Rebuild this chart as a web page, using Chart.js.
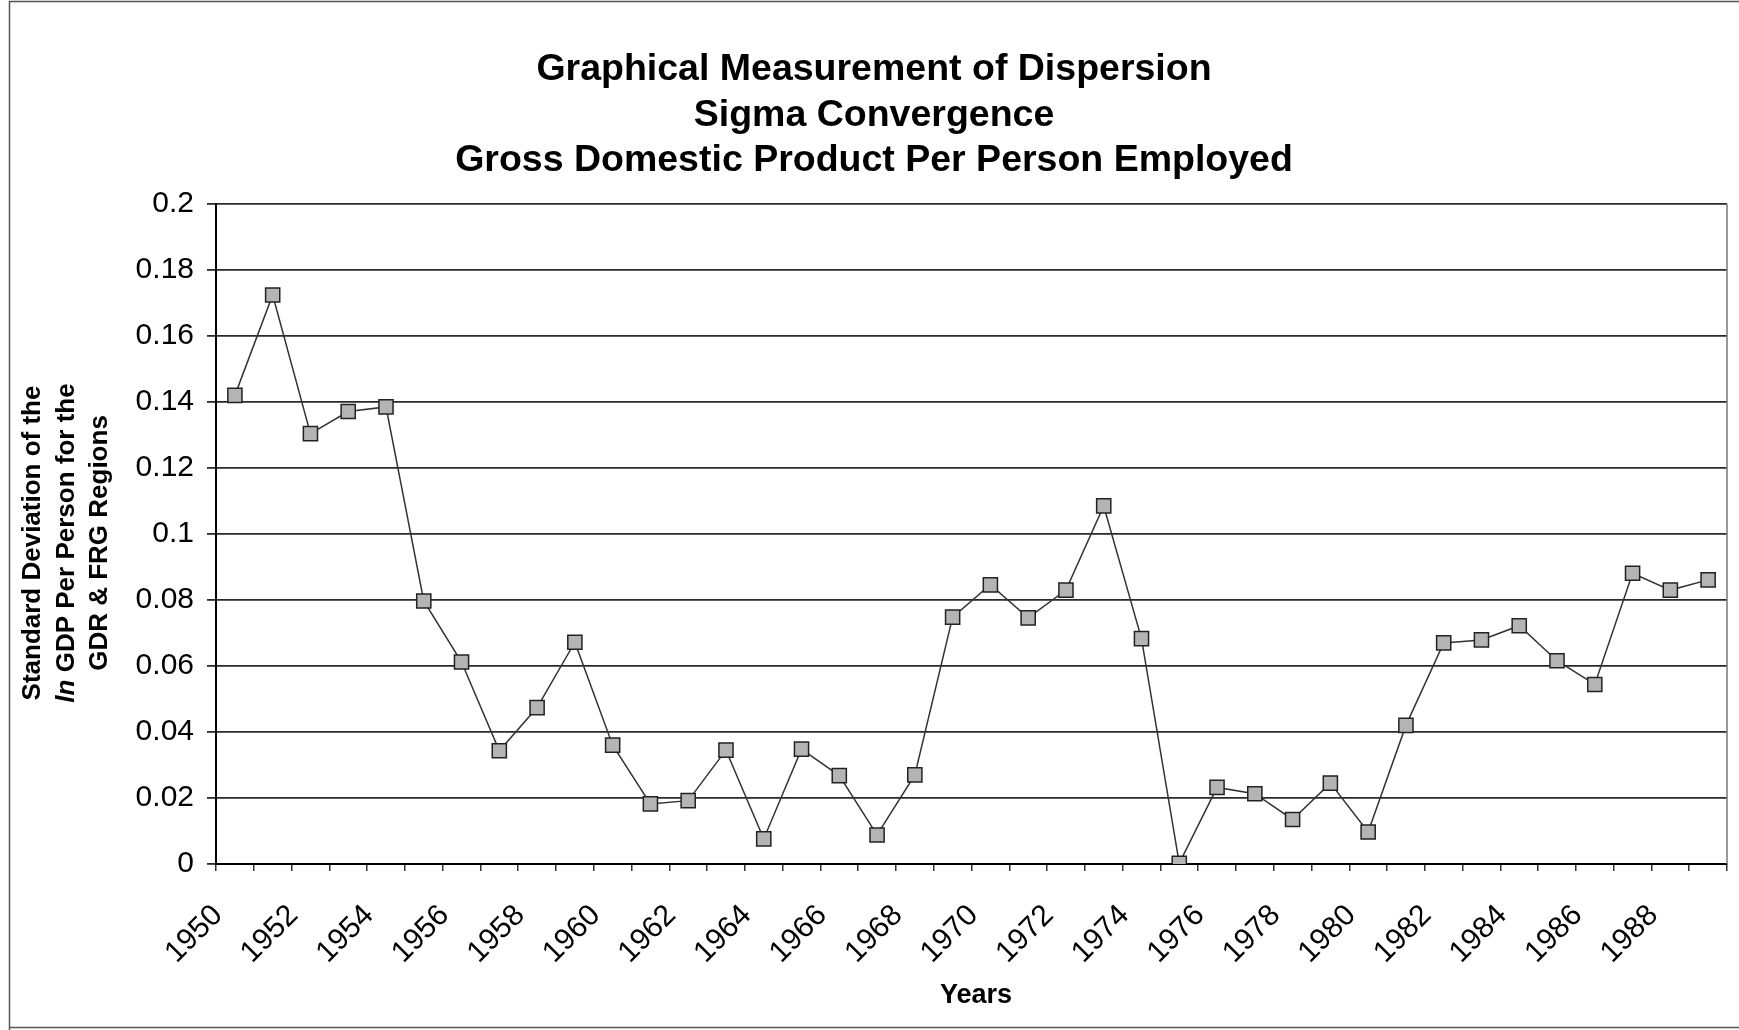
<!DOCTYPE html>
<html>
<head>
<meta charset="utf-8">
<title>Sigma Convergence</title>
<script src="https://cdn.jsdelivr.net/npm/chart.js@4.4.1/dist/chart.umd.min.js"></script>
<style>
  html, body { margin: 0; padding: 0; background: #fff; }
  #wrap { width: 1739px; height: 1030px; }
</style>
</head>
<body>
<div id="wrap"><canvas id="zgchart" width="1739" height="1030"></canvas></div>
<script>
// categories
var years = [1950, 1951, 1952, 1953, 1954, 1955, 1956, 1957, 1958, 1959,
             1960, 1961, 1962, 1963, 1964, 1965, 1966, 1967, 1968, 1969,
             1970, 1971, 1972, 1973, 1974, 1975, 1976, 1977, 1978, 1979,
             1980, 1981, 1982, 1983, 1984, 1985, 1986, 1987, 1988, 1989];

// std dev of ln GDP per person employed, GDR & FRG regions
var sigma = [0.1420, 0.1724, 0.1304, 0.1371, 0.1385, 0.0797, 0.0612, 0.0343, 0.0474, 0.0672,
             0.0360, 0.0182, 0.0192, 0.0345, 0.0076, 0.0348, 0.0268, 0.0088, 0.0270, 0.0748,
             0.0846, 0.0746, 0.0830, 0.1085, 0.0683, 0.0002, 0.0232, 0.0213, 0.0135, 0.0245,
             0.0097, 0.0420, 0.0670, 0.0679, 0.0722, 0.0616, 0.0544, 0.0881, 0.0830, 0.0861];

// tick labels
var yearLabels = ["1950", "1952", "1954", "1956", "1958", "1960", "1962", "1964", "1966", "1968",
                  "1970", "1972", "1974", "1976", "1978", "1980", "1982", "1984", "1986", "1988"];
var yLabels = ["0", "0.02", "0.04", "0.06", "0.08", "0.1", "0.12", "0.14", "0.16", "0.18", "0.2"];

var titleLines = ["Graphical Measurement of Dispersion", "Sigma Convergence", "Gross Domestic Product Per Person Employed"];
var xTitle = "Years";

var zgfont = "'Liberation Sans', Arial, sans-serif";

//frame, plot border, axis titles (y title needs an italic "ln")
var zgextras = {
  id: 'zgextras',
  afterDraw: function(chart) {
    var ctx = chart.ctx;
    var area = chart.chartArea;
    ctx.save();

    // outer frame
    ctx.strokeStyle = '#555';
    ctx.lineWidth = 1.5;
    ctx.beginPath();
    ctx.moveTo(9.5, 1030);
    ctx.lineTo(9.5, 1.5);
    ctx.lineTo(1739, 1.5);
    ctx.moveTo(9.5, 1027.5);
    ctx.lineTo(1739, 1027.5);
    ctx.stroke();

    // plot area right side
    ctx.strokeStyle = '#777';
    ctx.beginPath();
    ctx.moveTo(area.right, area.top);
    ctx.lineTo(area.right, area.bottom);
    ctx.stroke();

    // x axis title
    ctx.fillStyle = '#000';
    ctx.textBaseline = 'middle';
    ctx.textAlign = 'center';
    ctx.font = "bold 27px " + zgfont;
    ctx.fillText(xTitle, 976, 996);

    // y axis title
    ctx.textAlign = 'left';
    ctx.translate(0, 543);
    ctx.rotate(-Math.PI / 2);
    var bold = "bold 26px " + zgfont;
    var italic = "italic bold 26px " + zgfont;
    var lines = [
      [[bold, "Standard Deviation of the"]],
      [[italic, "ln"], [bold, " GDP Per Person for the"]],
      [[bold, "GDR & FRG Regions"]]
    ];
    var xs = [33, 66.5, 100];
    lines.forEach(function(parts, li) {
      var total = 0;
      parts.forEach(function(p) { ctx.font = p[0]; total += ctx.measureText(p[1]).width; });
      var cx = -total / 2;
      parts.forEach(function(p) {
        ctx.font = p[0];
        ctx.fillText(p[1], cx, xs[li]);
        cx += ctx.measureText(p[1]).width;
      });
    });
    ctx.restore();
  }
};

new Chart(document.getElementById('zgchart'), {
  type: 'line',
  data: {
    labels: years.map(String),
    datasets: [{
      data: sigma,
      borderColor: '#333',
      borderWidth: 1.5,
      tension: 0,
      pointStyle: 'rect',
      pointRadius: 10,
      pointBackgroundColor: '#b4b4b4',
      pointBorderColor: '#222',
      pointBorderWidth: 1.5
    }]
  },
  options: {
    responsive: false,
    animation: false,
    layout: { padding: { left: 21, right: 12, top: 0, bottom: 0 } },
    plugins: {
      legend: { display: false },
      tooltip: { enabled: false },
      title: {
        display: true,
        text: titleLines,
        color: '#000',
        font: { family: zgfont, size: 37.5, weight: 'bold', lineHeight: 1.213 },
        padding: { top: 47, bottom: 20.5 }
      }
    },
    scales: {
      x: {
        type: 'category',
        offset: true,
        grid: { display: true, drawOnChartArea: false, offset: true, tickLength: 7, color: '#333', lineWidth: 1.5 },
        border: { display: true, color: '#000', width: 2 },
        ticks: {
          autoSkip: false,
          maxRotation: 45,
          minRotation: 45,
          padding: 27,
          labelOffset: -17,
          color: '#000',
          font: { family: zgfont, size: 30 },
          callback: function(value, index) {
            return yearLabels.indexOf(String(years[index])) >= 0 ? String(years[index]) : '';
          }
        },
        afterFit: function(scale) {
          scale.height = 166;
          scale.paddingLeft = 0;
          scale.paddingRight = 0;
        }
      },
      y: {
        min: 0,
        max: 0.2,
        grid: { color: '#2a2a2a', lineWidth: 1.8, tickLength: 9 },
        border: { display: true, color: '#000', width: 2 },
        ticks: {
          stepSize: 0.02,
          padding: 13,
          color: '#000',
          font: { family: zgfont, size: 30 },
          callback: function(value, index) { return yLabels[index]; }
        },
        afterFit: function(scale) { scale.width = 195; }
      }
    }
  },
  plugins: [zgextras]
});
</script>
</body>
</html>
